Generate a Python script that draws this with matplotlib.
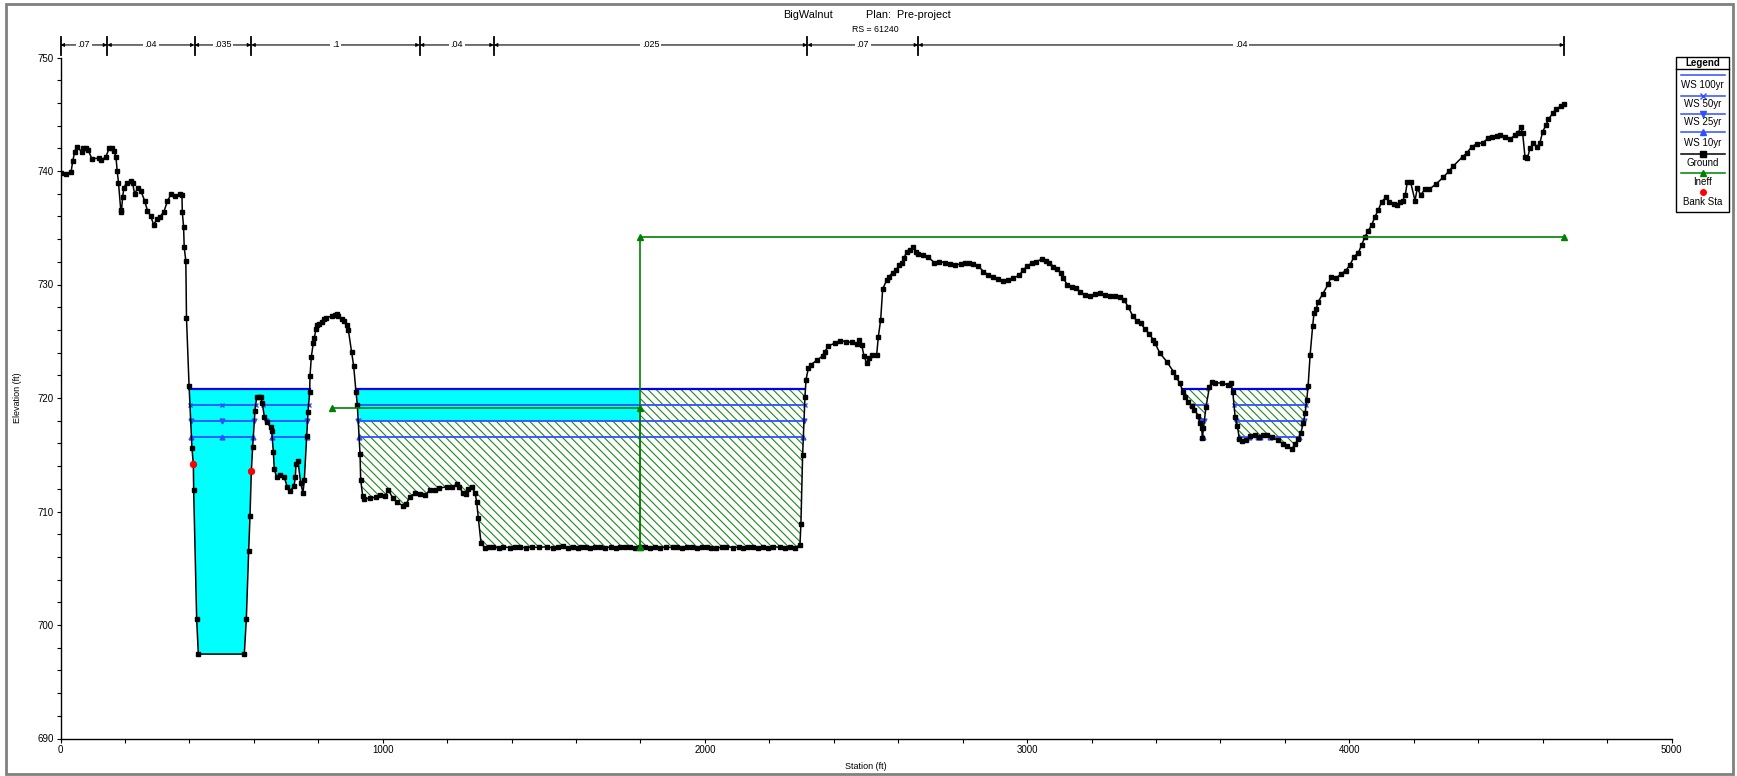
import numpy as np
import matplotlib
matplotlib.use("Agg")
import matplotlib.pyplot as plt
import matplotlib.transforms as mtransforms
from matplotlib.patches import Rectangle
from matplotlib.lines import Line2D

plt.rcParams['font.family'] = ['Liberation Sans', 'DejaVu Sans']
plt.rcParams['hatch.linewidth'] = 0.8

# ---------------------------------------------------------------- data
ground_sta = [
    0, 17, 33, 38, 44, 50, 66, 71, 78, 86, 97, 120, 126, 141, 151, 161, 166, 172,
    176, 180, 187, 189, 193, 197, 205, 218, 224, 230, 239, 249, 261, 270, 280, 289,
    299, 309, 321, 332, 343, 355, 371, 377, 378, 382, 384, 389, 391, 399,
    408, 412.3, 413.3, 422.6, 427.8, 570.5, 576.7, 584, 588.2, 592.3, 596.5, 603.6,
    608.9, 615, 622, 626.4, 632.6, 639.9, 652.3, 655.4, 660.5, 663.6, 671, 681.4,
    694.8, 704, 712.3, 724.7, 728.8, 730.9, 737.1, 745.4, 752.6, 756.8, 764, 768.2,
    773.4, 774.4, 778.5, 784.7, 787.8, 793, 797.1, 803.3, 810.6, 818.9, 824, 843.7,
    852, 857.1, 862.3, 872.6, 880, 888.2, 893.4, 903.7, 909.9, 917.1, 921.3, 929.6,
    931.7, 937.9, 943, 960.6, 979.2, 991.6, 1007.1, 1017.5, 1030.9, 1045.4, 1061.9,
    1072.3, 1084.7, 1100.2, 1115.7, 1131.2, 1146.7, 1162.2, 1175.7, 1198.4, 1214,
    1229.5, 1237.8, 1250.2, 1258.5, 1265.7, 1276.1, 1286.4, 1291.6, 1296.8, 1305.1,
    1317.5, 1330, 1343, 1360, 1374, 1395, 1410, 1426, 1445, 1462, 1485, 1509, 1530,
    1545, 1561, 1575, 1592, 1605, 1617, 1630, 1643, 1660, 1674, 1690, 1710, 1725,
    1736, 1752, 1767, 1783, 1798, 1815, 1829, 1845, 1860, 1880, 1900, 1912, 1928,
    1943, 1960, 1974, 1990, 2005, 2020, 2036, 2052, 2067, 2088, 2105, 2119, 2135,
    2150, 2165, 2181, 2197, 2212, 2233, 2250, 2264, 2280, 2295, 2298, 2303.3,
    2310.6, 2313.7, 2321, 2328.3, 2349, 2365.5, 2372.7, 2383, 2403.8, 2419.3, 2438,
    2455.6, 2471, 2479.3, 2486.6, 2493.8, 2502, 2510.4, 2517.6, 2533.1, 2538.3,
    2545.5, 2551.7, 2564.2, 2571.4, 2582.8, 2593.1, 2603.5, 2610.7, 2618, 2626.3,
    2636.6, 2647, 2655.3, 2662.5, 2678, 2693.6, 2712.2, 2727.7, 2745.3, 2760.8,
    2776.3, 2793.9, 2807.4, 2820.8, 2833.2, 2848.7, 2864.3, 2879.8, 2895.3, 2910.8,
    2926.3, 2941.9, 2957.4, 2976, 2988.4, 3000.8, 3014.3, 3027.7, 3045.3, 3058.7,
    3069.1, 3081.5, 3091.9, 3104.3, 3112.6, 3125, 3138.5, 3151.9, 3164.3, 3179.8,
    3195.4, 3210.9, 3226.4, 3241.9, 3257.4, 3273, 3288.5, 3300.9, 3314.4, 3327.8,
    3340.2, 3352.6, 3366, 3379.5, 3391.8, 3397, 3412.6, 3433.3, 3454, 3462.3,
    3474.7, 3483, 3490.2, 3500.6, 3510.9, 3519.2, 3531.6, 3536.8, 3542, 3544,
    3547.2, 3555.5, 3565.8, 3573.1, 3583.4, 3604.1, 3624.8, 3633.1, 3638.3, 3645.5,
    3652.8, 3659, 3666.2, 3679.7, 3692.1, 3707.6, 3721, 3733.5, 3745.9, 3759.4,
    3780, 3793.5, 3808, 3821.4, 3831.8, 3842.1, 3849.4, 3857.7, 3862.8, 3868,
    3872.2, 3878.4, 3886.3, 3890.4, 3896.6, 3903.9, 3917.3, 3934.9, 3943.2, 3958.7,
    3973.2, 3988.7, 4002.2, 4014.6, 4028, 4038.4, 4048.7, 4059, 4069.4, 4079.7,
    4090.1, 4100.4, 4113.9, 4124.2, 4138.7, 4149, 4157.3, 4165.6, 4173.9, 4180.1,
    4190.4, 4203.9, 4211.1, 4221.5, 4234.9, 4248.4, 4269.1, 4291.8, 4310.5, 4322.9,
    4351.8, 4364.2, 4379.7, 4395.3, 4413.9, 4431.5, 4441.8, 4457.4, 4467.7, 4483.2,
    4498.8, 4514.3, 4524.7, 4531.9, 4538.1, 4545.4, 4552.6, 4560.9, 4571.2, 4583.6,
    4591.9, 4600.2, 4610.5, 4617.8, 4631.2, 4641.6, 4656, 4667,
]
ground_elev = [
    739.85, 739.77, 739.94, 740.88, 741.67, 742.14, 741.70, 742.03, 742.06, 741.85,
    741.09, 741.12, 740.94, 741.26, 742.0, 742.06, 741.76, 741.26, 740.0, 738.97,
    736.56, 736.42, 737.74, 738.53, 738.97, 739.15, 738.91, 737.97, 738.47, 738.27,
    737.39, 736.5, 736.04, 735.27, 735.74, 735.98, 736.42, 737.36, 737.94, 737.8,
    737.97, 737.86, 736.39, 735.1, 733.27, 732.07, 727.08, 721.09,
    715.57, 714.16, 711.89, 700.5, 697.44, 697.44, 700.5, 706.5, 709.63, 713.57,
    715.71, 718.88, 720.1, 720.12, 720.1, 719.52, 718.35, 717.9, 717.41, 717.12,
    715.27, 713.72, 713.0, 713.22, 713.0, 712.13, 711.8, 712.25, 713.0, 714.18,
    714.45, 712.48, 711.66, 712.78, 716.64, 718.76, 720.53, 721.96, 723.64, 724.87,
    725.32, 726.05, 726.4, 726.52, 726.73, 726.96, 727.08, 727.22, 727.28, 727.37,
    727.25, 726.99, 726.81, 726.46, 725.99, 724.02, 722.82, 720.53, 719.38, 715.07,
    712.78, 711.37, 711.07, 711.22, 711.25, 711.45, 711.37, 711.89, 711.22, 710.81,
    710.51, 710.63, 711.31, 711.6, 711.54, 711.45, 711.89, 711.89, 712.04, 712.19,
    712.13, 712.4, 712.13, 711.6, 711.54, 711.95, 712.13, 711.66, 710.86, 709.4,
    707.25, 706.76, 706.9, 706.85, 706.8, 706.88, 706.82, 706.9, 706.85, 706.8,
    706.87, 706.83, 706.9, 706.78, 706.85, 706.92, 706.8, 706.88, 706.75, 706.9,
    706.85, 706.78, 706.86, 706.9, 706.82, 706.88, 706.8, 706.86, 706.9, 706.84,
    706.8, 706.86, 706.9, 706.82, 706.88, 706.8, 706.86, 706.83, 706.9, 706.78,
    706.85, 706.88, 706.8, 706.86, 706.9, 706.82, 706.78, 706.86, 706.9, 706.82,
    706.86, 706.8, 706.88, 706.84, 706.8, 706.88, 706.82, 706.9, 706.85, 706.8,
    706.86, 706.82, 707.05, 708.9, 714.98, 720.1, 721.59, 722.62, 722.92, 723.36,
    723.71, 724.09, 724.59, 724.83, 725.06, 724.97, 724.89, 724.77, 725.12, 724.68,
    723.71, 723.06, 723.5, 723.8, 723.8, 725.41, 726.88, 729.58, 730.4, 730.7,
    731.05, 731.28, 731.72, 731.87, 732.31, 732.9, 733.05, 733.34, 732.9, 732.69,
    732.61, 732.4, 731.93, 732.02, 731.93, 731.78, 731.72, 731.81, 731.87, 731.93,
    731.81, 731.64, 731.14, 730.84, 730.64, 730.46, 730.34, 730.4, 730.55, 730.84,
    731.28, 731.64, 731.87, 732.02, 732.22, 732.1, 731.93, 731.58, 731.34, 731.05,
    730.55, 729.96, 729.76, 729.67, 729.38, 729.09, 729.0, 729.18, 729.29, 729.09,
    729.0, 729.0, 728.88, 728.64, 728.0, 727.23, 726.82, 726.59, 726.06, 725.65,
    725.11, 724.82, 723.94, 723.21, 722.33, 721.83, 721.3, 720.57, 720.13, 719.69,
    719.31, 718.96, 718.43, 717.78, 717.34, 716.45, 717.34, 719.25, 720.95, 721.45,
    721.36, 721.3, 721.16, 721.3, 720.57, 718.37, 717.49, 716.37, 716.17, 716.26,
    716.67, 716.76, 716.55, 716.76, 716.7, 716.55, 716.26, 715.97, 715.73, 715.5,
    715.97, 716.37, 716.9, 717.84, 718.66, 719.84, 721.07, 723.8, 726.34, 727.46,
    727.81, 728.49, 729.16, 730.04, 730.69, 730.54, 730.92, 731.22, 731.72, 732.45,
    732.8, 733.48, 734.21, 734.74, 735.24, 735.98, 736.56, 737.3, 737.68, 737.3,
    737.1, 737.0, 737.3, 737.39, 737.89, 739.06, 739.0, 737.39, 738.48, 737.89,
    738.39, 738.39, 738.86, 739.44, 740.03, 740.44, 741.26, 741.56, 742.14, 742.38,
    742.5, 742.88, 743.03, 743.09, 743.17, 743.03, 742.8, 743.17, 743.38, 743.85,
    743.32, 741.21, 741.12, 742.0, 742.44, 742.14, 742.5, 743.47, 744.05, 744.55,
    745.08, 745.43, 745.72, 745.9,
]

ws_names = ['WS 100yr', 'WS 50yr', 'WS 25yr', 'WS 10yr']
ws_elev = [720.8, 719.4, 717.95, 716.6]
ws_markers = [None, 'x', 'v', '^']

bank_sta = [412.3, 592.3]
bank_elev = [714.16, 713.57]

left_ineff_sta = [842, 1800, 1800]
left_ineff_elev = [719.1, 719.1, 706.86]
right_ineff_sta = [1800, 1800, 4667]
right_ineff_elev = [706.86, 734.2, 734.2]

n_breaks = [0, 145, 416, 592, 1115, 1345, 2318, 2662, 4667]
n_values = ['.07', '.04', '.035', '.1', '.04', '.025', '.07', '.04']

# ---------------------------------------------------------------- figure
W, H, DPI = 1737, 776, 100
fig = plt.figure(figsize=(W / DPI, H / DPI), dpi=DPI)
fig.patch.set_facecolor('white')
ax = fig.add_axes([60.5 / W, 1 - 738.5 / H, 1611 / W, 681 / H])

sta = np.array(ground_sta, dtype=float)
z = np.array(ground_elev, dtype=float)

CYAN = '#00FFFF'
GREEN = '#008000'
HATCH_GREEN = '#1a8a1a'
BLUE_TOP = '#0000EE'
BLUE = '#3050FF'


def clip_box(coll, x0, x1, y0=680, y1=760):
    rect = Rectangle((x0, y0), x1 - x0, y1 - y0, transform=ax.transData,
                     facecolor='none', edgecolor='none')
    coll.set_clip_path(rect)


def wet_segments(level):
    segs = []
    below = z < level
    n = len(sta)
    i = 0
    while i < n:
        if below[i]:
            j = i
            while j + 1 < n and below[j + 1]:
                j += 1
            if i > 0:
                x0 = sta[i - 1] + (level - z[i - 1]) * (sta[i] - sta[i - 1]) / (z[i] - z[i - 1])
            else:
                x0 = sta[i]
            if j < n - 1:
                x1 = sta[j] + (level - z[j]) * (sta[j + 1] - sta[j]) / (z[j + 1] - z[j])
            else:
                x1 = sta[j]
            segs.append((x0, x1))
            i = j + 1
        else:
            i += 1
    return segs


ws_top = ws_elev[0]
ineff_x = left_ineff_sta[1]
ineff_left_end = left_ineff_sta[0]

# effective flow (cyan): main channel and left pocket
c1 = ax.fill_between(sta, z, ws_top, where=z < ws_top, interpolate=True,
                     facecolor=CYAN, edgecolor='none', linewidth=0, zorder=1)
clip_box(c1, 0, ineff_left_end)
# effective flow band above the ineffective area on the left floodplain
c2 = ax.fill_between(sta, np.maximum(z, ws_elev[2]), ws_top, where=z < ws_top,
                     interpolate=True, facecolor=CYAN, edgecolor='none',
                     linewidth=0, zorder=1)
clip_box(c2, ineff_left_end, ineff_x)

# ineffective flow areas (green hatch)
hatch = '\\\\\\\\'
h1 = ax.fill_between(sta, z, ws_elev[2], where=z < ws_elev[2], interpolate=True,
                     facecolor='none', edgecolor=HATCH_GREEN, linewidth=0,
                     hatch=hatch, zorder=1.5)
clip_box(h1, ineff_left_end, ineff_x)
h2 = ax.fill_between(sta, z, ws_top, where=z < ws_top, interpolate=True,
                     facecolor='none', edgecolor=HATCH_GREEN, linewidth=0,
                     hatch=hatch, zorder=1.5)
clip_box(h2, ineff_x, 5000)

# water surface lines
main_mid = 0.5 * (bank_sta[0] + bank_sta[1])
for k, (lev, mk) in enumerate(zip(ws_elev, ws_markers)):
    col = BLUE_TOP if k == 0 else BLUE
    lw = 1.6 if k == 0 else 1.3
    for x0, x1 in wet_segments(lev):
        xs = [x0, x1]
        if mk is not None and x0 < main_mid < x1:
            xs = [x0, main_mid, x1]
        ax.plot(xs, [lev] * len(xs), color=col, lw=lw, marker=mk, ms=3.5,
                mew=1.0, zorder=3)

# ground
ax.plot(sta, z, color='black', lw=1.1, marker='s', ms=2.7, zorder=5)

# ineffective flow limits
ax.plot(left_ineff_sta, left_ineff_elev, color=GREEN, lw=1.2, marker='^', ms=5,
        zorder=6)
ax.plot(right_ineff_sta, right_ineff_elev, color=GREEN, lw=1.2, marker='^', ms=5,
        zorder=6)

# bank stations
ax.plot(bank_sta, bank_elev, linestyle='none', marker='o', ms=4.2, color='red',
        zorder=7)

# axes
ax.set_xlim(0, 5000)
ax.set_ylim(690, 750)
ax.set_xticks(np.arange(0, 5001, 1000))
ax.set_xticks(np.arange(0, 5001, 200), minor=True)
ax.set_yticks(np.arange(690, 751, 10))
ax.set_yticks(np.arange(690, 751, 2), minor=True)
for s in ('top', 'right'):
    ax.spines[s].set_visible(False)
for s in ('left', 'bottom'):
    ax.spines[s].set_linewidth(1.0)
ax.tick_params(which='both', direction='out', length=3, width=0.8, labelsize=7,
               pad=2)
ax.set_xlabel('Station (ft)', fontsize=6.5)
ax.set_ylabel('Elevation (ft)', fontsize=6.5)
ax.xaxis.set_label_coords(0.5, -0.034)
ax.yaxis.set_label_coords(-0.024, 0.5)

# Manning's n bar along the top
trans = mtransforms.blended_transform_factory(ax.transData, ax.transAxes)
ybar = 1.0184
for a, b, lab in zip(n_breaks[:-1], n_breaks[1:], n_values):
    ax.annotate('', xy=(a, ybar), xytext=(b, ybar), xycoords=trans,
                textcoords=trans, annotation_clip=False,
                arrowprops=dict(arrowstyle='<|-|>', color='black', lw=0.8,
                                shrinkA=0, shrinkB=0, mutation_scale=5))
    ax.text(0.5 * (a + b), ybar, lab, transform=trans, ha='center', va='center',
            fontsize=6.5, clip_on=False, zorder=10,
            bbox=dict(facecolor='white', edgecolor='none', pad=1.2))
for b in n_breaks:
    ax.plot([b, b], [1.0037, 1.030], transform=trans, color='black', lw=1.3,
            clip_on=False)

# titles
fig.text(783 / W, 1 - 15 / H, 'BigWalnut', ha='left', va='center', fontsize=7.8)
fig.text(866 / W, 1 - 15 / H, 'Plan:  Pre-project', ha='left', va='center',
         fontsize=7.8)
fig.text(875 / W, 1 - 29 / H, 'RS = 61240', ha='center', va='center', fontsize=6.3)


# legend box
def fx(px):
    return px / W


def fy(py):
    return 1 - py / H


fig.add_artist(Rectangle((fx(1676), fy(212)), (1729 - 1676) / W, (212 - 57) / H,
                         transform=fig.transFigure, facecolor='white',
                         edgecolor='black', lw=1.0))
fig.text(fx(1702.5), fy(63.5), 'Legend', ha='center', va='center', fontsize=7,
         fontweight='bold')
fig.add_artist(Line2D([fx(1676), fx(1729)], [fy(69), fy(69)],
                      transform=fig.transFigure, color='black', lw=1.0))

legend_items = [
    ('WS 100yr', BLUE, None, 75.3, 85),
    ('WS 50yr', BLUE, 'x', 95.7, 104),
    ('WS 25yr', BLUE, 'v', 114, 122),
    ('WS 10yr', BLUE, '^', 132.3, 143.5),
    ('Ground', 'black', 's', 154.3, 162.7),
    ('Ineff', GREEN, '^', 173, 181.7),
]
for lab, col, mk, yl, yt in legend_items:
    fig.add_artist(Line2D([fx(1681), fx(1725)], [fy(yl), fy(yl)],
                          transform=fig.transFigure, color=col, lw=1.1))
    if mk is not None:
        fig.add_artist(Line2D([fx(1703)], [fy(yl)], transform=fig.transFigure,
                              color=col, marker=mk, ms=4, linestyle='none'))
    fig.text(fx(1702.5), fy(yt), lab, ha='center', va='center', fontsize=7)
fig.add_artist(Line2D([fx(1703)], [fy(191.7)], transform=fig.transFigure,
                      color='red', marker='o', ms=4, linestyle='none'))
fig.text(fx(1702.5), fy(201.7), 'Bank Sta', ha='center', va='center',
         fontsize=7)

# outer frame
fig.add_artist(Rectangle((6 / W, 1 - 774 / H), (1733 - 6) / W, (774 - 4) / H,
                         transform=fig.transFigure, fill=False,
                         edgecolor='#808080', lw=2))

fig.savefig('out.png', dpi=DPI)
